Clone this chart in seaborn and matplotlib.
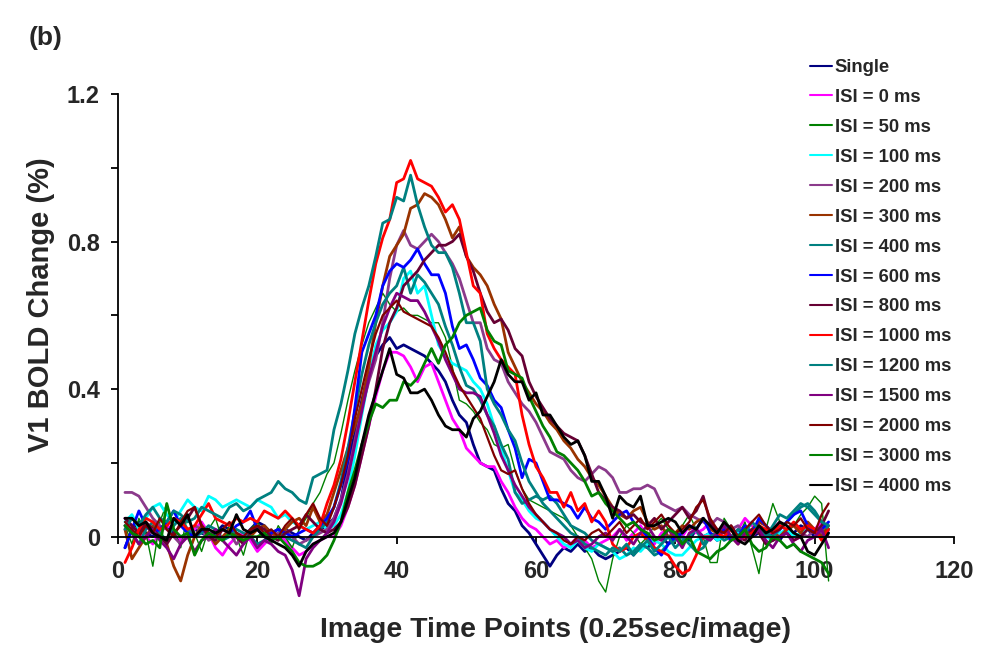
import matplotlib
matplotlib.use('Agg')
import matplotlib.pyplot as plt
import seaborn as sns
import pandas as pd
import numpy as np
from matplotlib.lines import Line2D
from matplotlib.ticker import FixedLocator, FuncFormatter

sns.set_style('ticks')
plt.rcParams['font.family'] = ['Liberation Sans', 'DejaVu Sans']
plt.rcParams['font.weight'] = 'bold'

time_points = list(range(1, 103))

# V1 BOLD change, in hundredths of a percent
single = [-3, 2, 4, 1, 0, 2, 3, 1, -1, 0, 2, 1, 0, 1, 3, 2, 1, 0, 2, 4, 3, 1, 0, 2, 1, 0, -1, 1, 2, 3,
          5, 10, 20, 28, 37, 45, 49, 52, 54, 51, 52, 51, 50, 49, 47, 45, 42, 37, 33, 31,
          25, 20, 19, 18, 13, 9, 7, 3, 1, -2, -5, -8, -5, -3, -4, -2, -4, -3, -5, -6,
          -5, -4, -3, -5, -2, -3, -1, 0, -2, 1, 0, -1, 2, 0, 1, -1, 0, 2, 1, 3, 0, 1, 2, 0, -1, 2, 1, 3, 2, 0, 1, 2]
isi_0 = [5, 3, 1, 0, -2, 1, 3, 2, -1, 0, 2, 4, 1, -3, -5, -2, 0, 1, -1, -4, -2, 0, 1, -1, -3, -5, -4, -2, -1, 0,
         0, 3, 8, 14, 22, 30, 38, 45, 50, 50, 49, 46, 42, 46, 47, 42, 37, 32, 29, 24,
         22, 20, 19, 19, 15, 12, 8, 5, 3, 2, 0, -2, -1, -3, -2, 0, -1, -3, -2, -1,
         0, 2, -1, 1, 3, 0, -2, 1, 2, -1, 0, 3, 1, 2, 4, 1, 0, -1, 2, 5, 3, 1, 0, 2, 4, 1, -1, 0, 3, 2, 4, 1]
isi_50 = [3, -2, 5, 1, -8, 4, 9, 2, -3, 6, 1, -4, 2, 5, -1, 3, 0, -5, 2, 4, 1, -2, 3, 0, -3, 2, 5, 9, 12, 17,
          20, 28, 37, 45, 52, 58, 62, 66, 63, 61, 62, 60, 60, 59, 58, 58, 54, 46, 37, 36,
          34, 31, 29, 25, 24, 25, 18, 13, 10, 9, 8, 7, 6, 5, 3, 0, -3, -6, -12, -15,
          -6, 0, 3, 1, -2, 0, 3, 5, 2, -1, 3, 6, 2, 0, -7, -7, 5, 2, 0, 4, -3, -10, 2, 9, 4, 1, 3, 6, 8, 11, 9, -12]
isi_100 = [4, 6, 2, 5, 8, 9, 6, 4, 7, 10, 8, 7, 11, 10, 8, 9, 10, 9, 8, 10, 9, 8, 5, 6, 4, 3, 2, 3, 4, 2,
           3, 6, 12, 22, 33, 43, 52, 56, 58, 61, 70, 72, 66, 68, 60, 52, 49, 47, 46, 45,
           42, 40, 36, 30, 24, 18, 12, 10, 7, 5, 4, 2, 0, -2, -3, -1, -3, -4, -2, -3,
           -4, -6, -5, -3, -4, -2, -1, -2, -4, -5, -5, -3, -1, 0, 1, -1, 0, 2, 1, 0, 2, 1, 0, -1, 1, 2, 0, 1, 2, 1, 0, 1]
isi_200 = [12, 12, 11, 8, 5, 3, 2, 0, -2, 1, 3, 2, -1, 0, 2, 1, -2, 0, 1, 2, 0, -1, 1, 2, 0, -2, -1, 0, 1, 2,
           5, 10, 17, 26, 35, 42, 48, 58, 70, 79, 83, 79, 78, 80, 82, 80, 77, 74, 70, 64,
           58, 58, 51, 48, 47, 42, 39, 36, 34, 31, 27, 23, 22, 21, 18, 16, 15, 17, 19, 18,
           16, 12, 12, 13, 13, 14, 13, 9, 8, 7, 8, 6, 5, 4, 3, 5, 4, 2, 3, 1, 0, 2, 1, -1, 0, 2, 3, 1, 0, 2, 1, 0]
isi_300 = [2, -6, -3, 0, 3, 1, -2, -8, -12, -5, 0, 3, 1, -2, 0, 2, 1, -1, 0, 2, 3, 1, 0, 2, 4, 5, 3, 8, 4, 6,
           12, 18, 24, 30, 36, 46, 58, 68, 76, 79, 82, 89, 90, 93, 92, 90, 86, 81, 84, 76,
           73, 71, 68, 63, 59, 50, 46, 42, 39, 36, 34, 31, 29, 26, 24, 21, 19, 16, 14, 11,
           8, 6, 5, 7, 8, 4, 2, 3, 0, 1, 3, 2, 4, 5, 2, 1, 3, 0, -2, 1, 2, 4, 3, 1, 0, 2, 3, 1, 4, 2, 0, 3]
isi_400 = [3, 1, -2, 2, 4, 1, -1, 3, 5, 2, 0, 1, 3, 2, -1, 0, 2, 1, 0, -2, -1, 1, 2, 0, -1, -2, -3, 0, 2, 4,
           8, 15, 24, 34, 44, 52, 58, 63, 66, 68, 73, 66, 71, 69, 66, 63, 57, 52, 46, 41,
           40, 37, 33, 30, 25, 21, 12, 9, 10, 11, 10, 11, 9, 6, 3, 2, 1, -1, -2, -3,
           -4, -3, -5, -4, -2, -3, -5, -4, -2, -1, 0, -2, -4, -3, 0, 1, -1, 0, 2, 1, 0, 3, 1, 0, 2, 4, 6, 8, 9, 7, 4, 2]
isi_600 = [-3, 2, 7, 3, 1, 2, 4, 7, 3, 1, 0, 2, 1, 0, 2, 1, 3, 4, 7, 2, 0, 1, 2, 1, 0, 1, 2, 1, 3, 5,
           8, 14, 21, 35, 50, 55, 60, 68, 72, 74, 73, 75, 78, 74, 71, 71, 66, 57, 51, 52,
           48, 43, 41, 37, 35, 29, 24, 16, 21, 20, 15, 10, 10, 9, 8, 5, 8, 5, 4, 2,
           4, 6, 7, 4, 2, 0, -3, -5, -2, 0, 1, 3, 2, 5, 1, 0, 2, -1, 0, 3, 1, 5, 3, 1, 2, 4, 6, 7, 3, 1, 2, 4]
isi_800 = [5, 3, 1, 4, 2, 0, -2, 1, 3, 5, 8, 3, 0, -1, 2, 1, 0, -2, 1, 3, 2, 0, -1, 1, 2, 3, 6, 4, 2, 1,
           2, 4, 8, 14, 22, 30, 40, 51, 58, 62, 68, 70, 72, 75, 77, 79, 79, 80, 82, 76,
           72, 66, 61, 58, 59, 56, 51, 49, 42, 38, 35, 32, 30, 28, 27, 26, 22, 17, 12, 10,
           8, 7, 5, 6, 4, 3, 5, 2, 4, 6, 8, 5, 7, 11, 4, 2, 1, 3, 0, -1, 2, 1, -2, -1, 0, 1, -1, 0, 2, 1, 3, 7]
isi_1000 = [-7, -3, 2, 5, 4, 2, 3, 5, 4, 2, 3, 6, 9, 5, 4, 3, 5, 4, 5, 4, 7, 6, 5, 7, 5, 3, 2, 1, 3, 9,
            14, 21, 31, 42, 53, 64, 74, 81, 86, 96, 97, 102, 97, 96, 95, 92, 88, 90, 86, 77,
            68, 66, 55, 51, 48, 46, 44, 33, 25, 19, 16, 12, 12, 8, 12, 7, 9, 4, 7, 4,
            -2, -4, -3, 0, 1, -1, -3, -4, -5, -8, -10, -9, -5, 0, 0, 1, 0, 2, -1, 0, 1, 3, 2, 1, 3, 2, 4, 2, 3, 2, -1, 2]
isi_1200 = [2, 5, 3, 6, 8, 5, 4, 7, 6, 4, 5, 8, 7, 6, 5, 8, 9, 7, 8, 10, 11, 12, 15, 13, 12, 10, 9, 16, 17, 18,
            29, 36, 45, 55, 62, 68, 76, 85, 86, 92, 91, 98, 90, 84, 79, 77, 77, 73, 66, 58,
            58, 53, 40, 36, 33, 29, 26, 20, 15, 12, 9, 7, 5, 3, 1, 0, -2, -3, -4, -5,
            -3, -4, -2, -5, -3, -1, -4, -2, 0, -3, -1, 0, 2, -2, 0, 1, 3, 2, 0, 1, 4, 2, 0, 3, 6, 5, 7, 9, 8, 6, 4, 3]
isi_1500 = [3, 1, -2, 0, 2, -1, -3, -6, -2, 0, -4, -1, 0, 2, -1, -3, -5, -2, 0, -3, -1, -2, -4, -5, -9, -16, -6, -3, -1, 1,
            4, 9, 16, 25, 34, 43, 50, 57, 62, 66, 65, 64, 64, 61, 57, 53, 48, 44, 40, 39,
            39, 38, 33, 28, 22, 18, 14, 11, 8, 6, 4, 2, 1, 0, -2, -1, -3, -2, 0, 1,
            -1, 2, 0, -2, 1, 3, 0, -1, 2, 0, -3, 1, 2, 0, -1, 1, 3, 0, -2, 1, 0, 2, -1, -3, 0, 1, -2, -4, -1, 0, 2, -3]
isi_2000 = [4, 2, 0, 3, 1, 5, 2, 0, 4, 7, 8, 3, 1, 0, 2, 4, 1, 0, 2, 3, 1, 2, 0, 3, 5, 2, 6, 9, 5, 3,
            8, 14, 22, 32, 40, 48, 55, 60, 62, 64, 61, 60, 59, 58, 57, 54, 50, 45, 41, 38,
            35, 32, 27, 22, 18, 17, 18, 13, 9, 6, 4, 2, 1, -1, -2, 0, -1, 1, 2, 0,
            2, 4, 1, 3, 5, 2, 4, 6, 3, 1, 2, 4, 8, 10, 5, 2, 1, 3, 0, 2, 4, 6, 3, 1, 2, 4, 3, 5, 2, 1, 6, 9]
isi_3000 = [3, 1, 0, -2, -1, -3, 9, 2, 0, 1, -5, -1, 1, 0, -1, 1, 0, -1, 0, 0, 1, -1, 0, -2, -4, -7, -8, -8, -7, -5,
            -1, 4, 12, 18, 25, 31, 36, 35, 37, 37, 42, 41, 43, 47, 51, 47, 52, 54, 58, 60,
            61, 62, 56, 53, 52, 45, 44, 43, 38, 34, 30, 27, 23, 22, 20, 18, 15, 11, 12, 9,
            7, 5, 3, 4, 2, 1, -1, 0, 2, 1, -2, 0, -4, -5, -6, -4, -3, -1, 0, 2, -2, -4, -3, 0, -1, -3, -2, -4, -5, -6, -7, -10]
isi_4000 = [5, 5, 3, 4, 1, 0, -1, 5, 3, 6, 0, 2, 2, 1, 2, 1, 6, 2, 1, 2, 0, -1, -2, -3, -5, -8, -4, -2, -1, 0,
            1, 4, 10, 16, 25, 33, 39, 45, 51, 44, 43, 39, 39, 40, 37, 33, 30, 29, 29, 27,
            32, 34, 38, 42, 48, 44, 42, 42, 37, 39, 33, 33, 30, 27, 25, 26, 22, 15, 15, 11,
            5, 11, 9, 8, 11, 3, 3, 4, 5, 4, 1, 3, 2, 5, 3, 1, 4, 2, -1, -2, 0, 3, 1, 2, 4, 3, 1, 0, -4, -5, -2, 1]

labels = ['Single', 'ISI = 0 ms', 'ISI = 50 ms', 'ISI = 100 ms', 'ISI = 200 ms', 'ISI = 300 ms',
          'ISI = 400 ms', 'ISI = 600 ms', 'ISI = 800 ms', 'ISI = 1000 ms', 'ISI = 1200 ms',
          'ISI = 1500 ms', 'ISI = 2000 ms', 'ISI = 3000 ms', 'ISI = 4000 ms']
values = [single, isi_0, isi_50, isi_100, isi_200, isi_300, isi_400, isi_600, isi_800,
          isi_1000, isi_1200, isi_1500, isi_2000, isi_3000, isi_4000]
colors = ['#000080', '#FF00FF', '#008000', '#00FFFF', '#8B3A8B', '#993300', '#008080', '#0000FF',
          '#660033', '#FF0000', '#008080', '#800080', '#800000', '#008000', '#000000']
widths = [2.0, 2.0, 1.0, 2.0, 2.0, 2.0, 2.0, 2.0, 2.0, 2.0, 2.0, 2.0, 1.6, 2.0, 2.0]

frames = []
for lab, vals in zip(labels, values):
    assert len(vals) == len(time_points), lab
    frames.append(pd.DataFrame({'t': time_points, 'bold': np.array(vals) / 100.0, 'cond': lab}))
df = pd.concat(frames, ignore_index=True)

fig = plt.figure(figsize=(9.84, 6.6), dpi=100)
ax = fig.add_axes([118 / 984, 1 - 610.5 / 660, 836 / 984, 516.5 / 660])

for lab, col, lw in zip(labels, colors, widths):
    sns.lineplot(data=df[df['cond'] == lab], x='t', y='bold', color=col, lw=lw,
                 estimator=None, ax=ax, legend=False)

ax.set_xlim(0, 120)
ax.set_ylim(-0.2, 1.2)
ax.set_xticks(range(0, 121, 20))
ax.set_yticks([0, 0.4, 0.8, 1.2])
ax.yaxis.set_minor_locator(FixedLocator([0.2, 0.6, 1.0]))
ax.yaxis.set_major_formatter(FuncFormatter(lambda v, p: '0' if abs(v) < 1e-9 else f'{v:.1f}'))

for s in ['top', 'right']:
    ax.spines[s].set_visible(False)
ax.spines['bottom'].set_position(('data', 0))
ax.spines['bottom'].set_bounds(0, 120)
ax.spines['left'].set_bounds(0, 1.2)
for s in ['bottom', 'left']:
    ax.spines[s].set_linewidth(1.3)
    ax.spines[s].set_color('black')

ax.tick_params(which='both', direction='out', length=5, width=1.3, color='black')
ax.tick_params(axis='x', labelsize=17, pad=12)
ax.tick_params(axis='y', labelsize=17, pad=8)

ax.set_xlabel('Image Time Points (0.25sec/image)', fontsize=20.5, fontweight='bold')
ax.set_ylabel('V1 BOLD Change (%)', fontsize=21, fontweight='bold')
ax.xaxis.set_label_coords((556 - 118) / 836, (610.5 - 630) / 516.5)
ax.xaxis.label.set_va('center')
ax.yaxis.set_label_coords((41 - 118) / 836, (610.5 - 305) / 516.5)
ax.yaxis.label.set_va('center')

fig.text(29 / 984, 1 - 38 / 660, '(b)', fontsize=19, fontweight='bold', ha='left', va='center')

handles = [Line2D([0], [0], color=c, lw=1.5) for c in colors]
ax.legend(handles, labels, loc='upper left', bbox_to_anchor=(810 / 984, 1 - 59 / 660),
          bbox_transform=fig.transFigure, frameon=False, prop={'weight': 'bold', 'size': 13.3},
          handlelength=1.2, handletextpad=0.15, labelspacing=0.70, borderpad=0, borderaxespad=0)

fig.savefig('out.png', dpi=100)
